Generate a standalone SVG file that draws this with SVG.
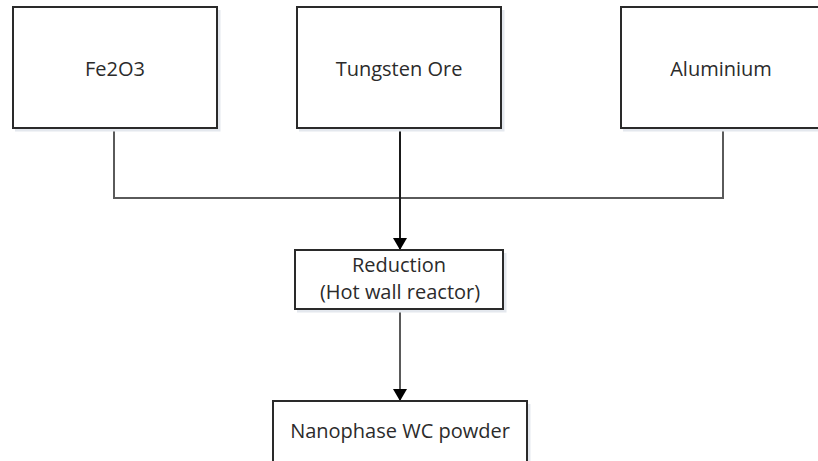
<svg xmlns="http://www.w3.org/2000/svg" width="818" height="461" viewBox="0 0 818 461">
  <style>
    .box { fill: #ffffff; stroke: #2a2a2a; stroke-width: 2; }
    .shadow { fill: none; stroke: #e4e8ee; stroke-width: 3; }
    .label { font-family: "Open Sans", "DejaVu Sans", sans-serif; font-size: 20px; fill: #2b2b2b; text-anchor: middle; }
    .wire { fill: none; stroke: #5a5a5a; stroke-width: 2; }
    .flow { fill: none; stroke: #1a1a1a; stroke-width: 2; }
  </style>
  <defs>
    <marker id="arrow" viewBox="0 0 12 14" refX="12" refY="7" markerWidth="12" markerHeight="14" markerUnits="userSpaceOnUse" orient="auto">
      <path d="M0,0 L12,7 L0,14 Z" fill="#000000"/>
    </marker>
  </defs>
  <rect width="818" height="461" fill="#ffffff"/>

  <g id="connectors">
    <!-- raw materials merge into one feed line -->
    <polyline class="wire" points="114,128 114,198 723,198 723,128"/>
    <line class="flow" x1="400" y1="128" x2="400" y2="250" marker-end="url(#arrow)"/>
    <line class="wire" x1="400" y1="309" x2="400" y2="401" marker-end="url(#arrow)"/>
  </g>

  <g id="fe2o3">
    <polyline class="shadow" points="219,10 219,130 15,130"/>
    <rect class="box" x="13" y="7" width="204" height="121"/>
    <text class="label" x="115" y="76">Fe2O3</text>
  </g>

  <g id="tungsten-ore">
    <polyline class="shadow" points="503,10 503,130 299,130"/>
    <rect class="box" x="297" y="7" width="204" height="121"/>
    <text class="label" x="399" y="76">Tungsten Ore</text>
  </g>

  <g id="aluminium">
    <polyline class="shadow" points="623,130 830,130"/>
    <rect class="box" x="621" y="7" width="204" height="121"/>
    <text class="label" x="721" y="76">Aluminium</text>
  </g>

  <g id="reduction">
    <polyline class="shadow" points="505,253 505,311 297,311"/>
    <rect class="box" x="295" y="250" width="208" height="59"/>
    <text class="label" x="399" y="272">Reduction</text>
    <text class="label" x="400" y="299">(Hot wall reactor)</text>
  </g>

  <g id="nanophase-wc">
    <polyline class="shadow" points="529,404 529,470"/>
    <rect class="box" x="273" y="401" width="254" height="80"/>
    <text class="label" x="400" y="438">Nanophase WC powder</text>
  </g>
</svg>
